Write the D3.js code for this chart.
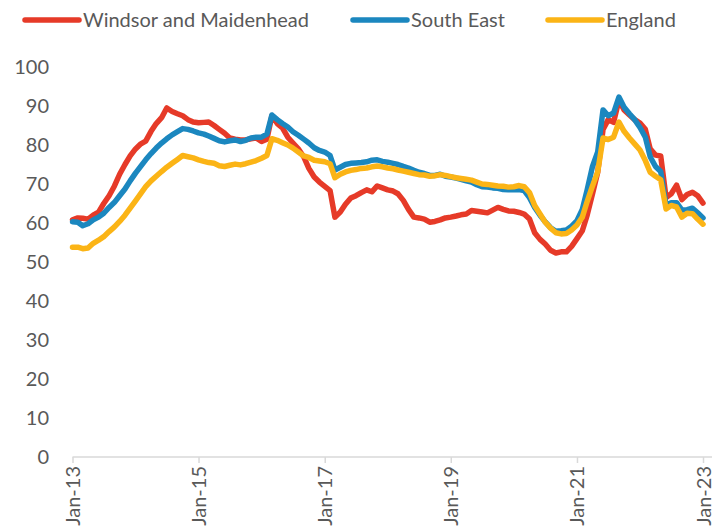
<!DOCTYPE html>
<html><head><meta charset="utf-8">
<script src="https://cdn.jsdelivr.net/npm/d3@7"></script>
<style>html,body{margin:0;padding:0;background:#fff;overflow:hidden}</style>
</head><body>
<svg id="c" width="724" height="530"></svg>
<script>
const startYear = 2013;
const tickLabels = ["Jan-13","Jan-15","Jan-17","Jan-19","Jan-21","Jan-23"];
const yTicks = [0,10,20,30,40,50,60,70,80,90,100];
const seriesNames = ["Windsor and Maidenhead","South East","England"];
const windsor = [60.8,61.3,61.2,61,62,62.8,65,67,69.5,72.5,75,77.2,79,80.3,81,83.5,85.5,87,89.5,88.6,88,87.5,86.5,85.9,85.7,85.8,85.9,85,84,83,81.8,81.5,81.3,81.3,81.6,81.8,80.9,81.5,87.5,85.5,84.4,82,80.5,79,77,74,71.8,70.5,69.4,68.3,61.5,62.8,64.8,66.4,67,67.8,68.5,68,69.5,69,68.5,68.2,67.5,65.8,63.5,61.5,61.3,61,60.2,60.4,60.8,61.3,61.5,61.8,62.1,62.3,63.2,63,62.8,62.6,63.3,64,63.5,63.1,63,62.7,62.3,61,57.5,55.8,54.6,53,52.3,52.6,52.6,54,56,58,62,67.5,73,84,86.5,85.8,91.5,89,87.7,86.5,85.6,84,79,77.4,77.2,66.5,67.5,69.7,66,67.3,67.9,67,65.1];
const southEast = [60.3,60.2,59.3,59.8,60.8,61.5,62.5,64,65.3,67,68.7,70.8,72.8,74.6,76.2,77.8,79.2,80.5,81.6,82.6,83.4,84.2,84,83.6,83.1,82.8,82.3,81.7,81.1,80.8,81.1,81.3,80.9,81.2,81.8,82,82,82.8,87.7,86.5,85.5,84.6,83.4,82.5,81.5,80.5,79.3,78.6,78.2,77.3,73.6,74.3,75,75.3,75.4,75.5,75.7,76.1,76.2,75.8,75.6,75.3,75,74.5,74.1,73.5,73,72.7,72.2,72.2,72.5,72,71.8,71.5,71.2,70.8,70.5,69.8,69.3,69.2,69,68.9,68.6,68.5,68.5,68.6,68.3,66.5,64,62,60.3,58.8,57.9,58,58.2,59.2,60.6,63.5,68.5,74.5,78.2,89,87.5,88.2,92.3,89.7,88,86.5,84.5,82,77,74.5,73.2,64.5,65.2,65.2,63.3,63.4,63.8,62.6,61.3];
const england = [53.8,53.8,53.4,53.6,54.8,55.6,56.5,57.8,59,60.4,62,63.8,65.7,67.6,69.3,70.8,72,73.2,74.3,75.3,76.3,77.3,77,76.7,76.2,75.8,75.5,75.3,74.7,74.5,74.8,75.1,74.9,75.2,75.6,76,76.6,77.3,81.6,81.2,80.6,80,79.2,78.2,77.2,76.8,76.1,75.9,75.7,75.2,71.6,72.5,73.1,73.5,73.7,74,74.1,74.4,74.6,74.4,74.1,73.9,73.6,73.3,73,72.7,72.4,72.3,72,72.1,72.4,72.2,71.9,71.6,71.4,71.2,71,70.5,70,69.9,69.7,69.5,69.4,69.2,69.3,69.6,69.3,67.8,64.5,62.3,60.2,58.7,57.5,57.2,57.3,58.2,59.5,61.5,65.5,69.5,73.1,81.8,81.4,82,85.9,83.5,81.8,80.3,78.7,76,73,72,71.1,63.6,64.5,64.1,61.5,62.5,62.4,61,59.7];
const colors = ["#E63A28","#1B87BF","#FBB416"];

const FONT = "Lato, 'Open Sans', sans-serif";
const svg = d3.select("#c");
const months = d3.range(windsor.length).map(i => new Date(startYear, i, 1));
const x = d3.scaleTime().domain([months[0], months[months.length-1]]).range([72.5, 703]);
const y = d3.scaleLinear().domain([0,100]).range([457, 67]);

// y axis labels
const ya = svg.append("g").attr("transform","translate(49,0)")
  .call(d3.axisLeft(y).tickValues(yTicks).tickSize(0).tickPadding(0));
ya.select(".domain").remove();
ya.selectAll("text").attr("font-family",FONT).attr("font-size",20).attr("fill","#595959");

// x axis
const tickDates = tickLabels.map((_,i)=> new Date(startYear + 2*i, 0, 1));
const xa = svg.append("g").attr("transform","translate(0,457)")
  .call(d3.axisBottom(x).tickValues(tickDates).tickSize(6).tickFormat((d,i)=>tickLabels[i]));
xa.select(".domain").attr("stroke","#D9D9D9").attr("stroke-width",1.5).attr("d","M72.5,0H712");
xa.selectAll(".tick line").attr("stroke","#D9D9D9").attr("stroke-width",1.5);
xa.selectAll("text").attr("font-family",FONT).attr("font-size",20).attr("fill","#595959")
  .attr("transform","rotate(-90)").attr("text-anchor","end").attr("x",-9).attr("y",0).attr("dy","0.35em");

// lines
const line = d3.line().x((d,i)=>x(months[i])).y(d=>y(d));
[windsor, southEast, england].forEach((s,k)=>{
  svg.append("path").datum(s).attr("d",line).attr("fill","none")
    .attr("stroke",colors[k]).attr("stroke-width",5.5)
    .attr("stroke-linejoin","round").attr("stroke-linecap","round");
});

// legend
const legX = [25, 353, 548];
seriesNames.forEach((n,k)=>{
  const g = svg.append("g").attr("transform",`translate(${legX[k]},20)`);
  g.append("line").attr("x1",0).attr("x2",54).attr("y1",0).attr("y2",0)
    .attr("stroke",colors[k]).attr("stroke-width",5.5).attr("stroke-linecap","round");
  g.append("text").attr("x",58).attr("y",0).attr("dy","0.35em").text(n)
    .attr("font-family",FONT).attr("font-size",20).attr("fill","#595959");
});
</script>
</body></html>
